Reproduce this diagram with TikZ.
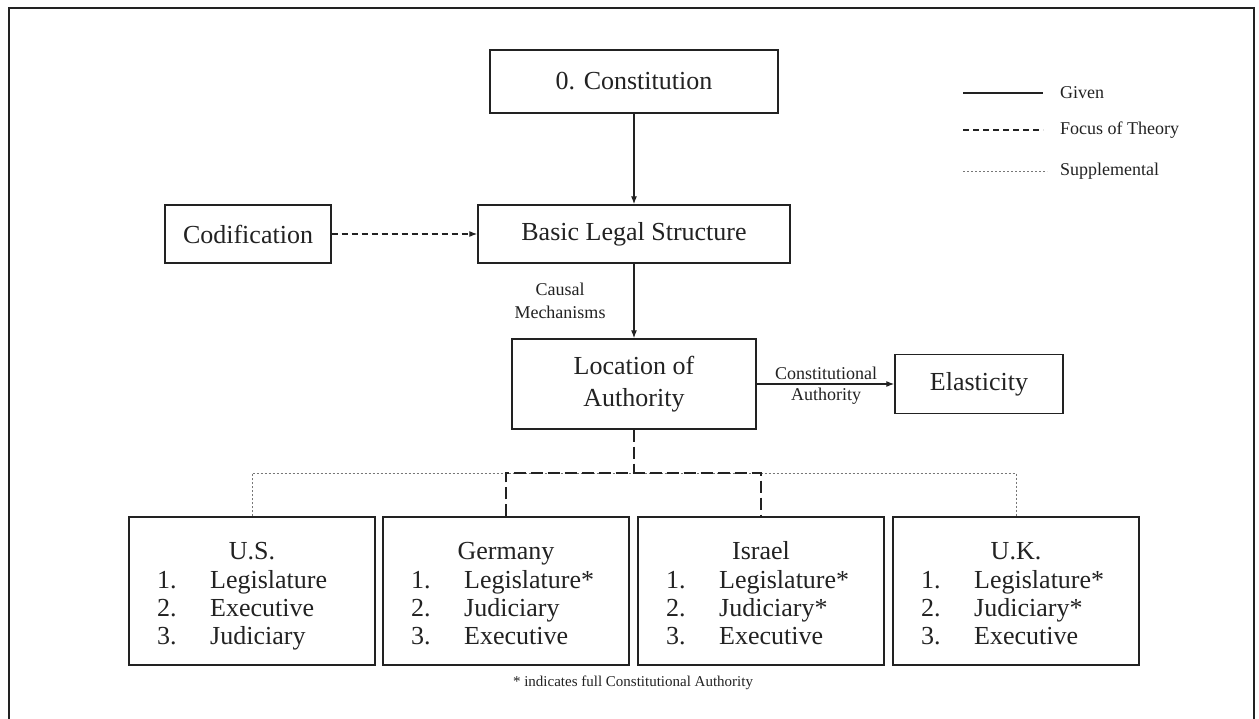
\documentclass[tikz,border=0pt]{standalone}
\usepackage{fontspec}
\setmainfont{Liberation Serif}
\usetikzlibrary{arrows.meta}
\definecolor{ink}{HTML}{222222}
\definecolor{dotc}{HTML}{777777}
\begin{document}
\begin{tikzpicture}[x=1pt,y=-1pt,
  box/.style={draw=ink, line width=1.4pt, inner sep=0pt, text=ink},
  big/.style={font=\fontsize{26}{32}\selectfont, text=ink},
  small/.style={font=\fontsize{18}{23}\selectfont, text=ink},
  arr/.style={draw=ink, line width=1.2pt, -{Latex[length=8pt,width=6pt]}},
  focus/.style={dash pattern=on 6pt off 4pt},
  focusl/.style={draw=ink, line width=1.3pt, dash pattern=on 12pt off 5pt},
  supp/.style={draw=dotc, line width=0.9pt, dash pattern=on 2pt off 2pt},
  txt/.style={inner sep=0pt}
]
\useasboundingbox (0,0) rectangle (1259,719);
\fill[white] (0,0) rectangle (1259,719);
% outer frame
\draw[ink, line width=2.5pt] (9,719) -- (9,8) -- (1254,8) -- (1254,719);

% main nodes
\node[box, big, minimum width=288, minimum height=63] (const) at (634,81.5) {0. Constitution};
\node[box, big, minimum width=312, minimum height=58] (bls) at (634,234) {Basic Legal Structure};
\node[box, big, minimum width=166, minimum height=58] (cod) at (248,234) {Codification};
\node[box, big, minimum width=244, minimum height=90, align=center] (loa) at (634,384) {Location of\\Authority};
\node[box, big, minimum width=168, minimum height=59] (ela) at (979,384) {Elasticity};

% connectors
\draw[arr] (const) -- (bls);
\draw[arr, focus] (cod) -- (bls);
\draw[arr] (bls) -- (loa);
\draw[arr] (loa) -- (ela);
\node[small, align=center, txt] (causal) at (560,301) {Causal\\Mechanisms};
\node[small, txt] (ca1) at (826,373) {Constitutional};
\node[small, txt] (ca2) at (826,396) {Authority};

% country boxes
\foreach \n/\cx/\t/\a/\b/\c in {us/252/U.S./Legislature/Executive/Judiciary,
  de/506/Germany/Legislature*/Judiciary/Executive,
  il/761/Israel/Legislature*/Judiciary*/Executive,
  uk/1016/U.K./Legislature*/Judiciary*/Executive}{
  \node[box, minimum width=246, minimum height=148] (\n) at (\cx,591) {};
  \node[big, txt, anchor=base] (\n-t) at (\cx,559) {\t};
  \node[big, txt, anchor=base west] (\n-n1) at (\cx-95,588) {1.};
  \node[big, txt, anchor=base west] (\n-n2) at (\cx-95,616) {2.};
  \node[big, txt, anchor=base west] (\n-n3) at (\cx-95,644) {3.};
  \node[big, txt, anchor=base west] (\n-i1) at (\cx-42,588) {\a};
  \node[big, txt, anchor=base west] (\n-i2) at (\cx-42,616) {\b};
  \node[big, txt, anchor=base west] (\n-i3) at (\cx-42,644) {\c};
}

\coordinate (j) at (634,473);
\draw[supp] (us.north) |- (j) -| (uk.north);
\draw[focusl] (loa.south) -- (j);
\draw[focusl] (de.north) |- (j) -| (il.north);

\node[txt, text=ink, font=\fontsize{15}{18}\selectfont] (note) at (633,683) {* indicates full Constitutional Authority};

% legend
\coordinate (g1) at (963,93); \coordinate (g2) at (1043,93);
\coordinate (f1) at (963,130); \coordinate (f2) at (1043,130);
\coordinate (s1) at (963,171); \coordinate (s2) at (1047,171);
\draw[ink, line width=1.3pt] (g1) -- (g2);
\draw[ink, line width=1.3pt, focus] (f1) -- (f2);
\draw[supp] (s1) -- (s2);
\node[small, txt, anchor=west] (lg) at (1060,93) {Given};
\node[small, txt, anchor=west] (lf) at (1060,130) {Focus of Theory};
\node[small, txt, anchor=west] (ls) at (1060,171) {Supplemental};
\end{tikzpicture}
\end{document}
